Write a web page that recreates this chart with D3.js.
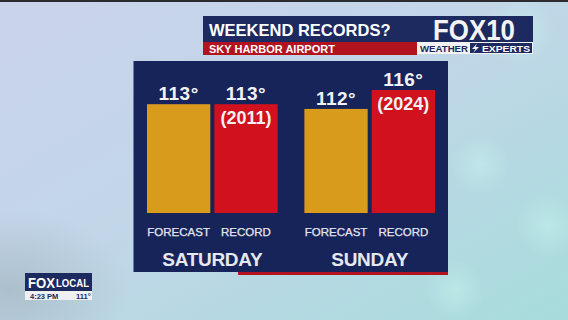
<!DOCTYPE html>
<html>
<head>
<meta charset="utf-8">
<script src="https://cdn.jsdelivr.net/npm/d3@7"></script>
<style>
  html, body { margin: 0; padding: 0; background: #c6d3e6; }
  svg { display: block; font-family: "Liberation Sans", Arial, sans-serif; }
</style>
</head>
<body>
<svg id="chart" width="568" height="320"></svg>
<script>
// chart values
const days = ["SATURDAY", "SUNDAY"];
const series = ["FORECAST", "RECORD"];
const forecast = [113, 112];
const record = [113, 116];
const recordYears = ["2011", "2024"];

const title = "WEEKEND RECORDS?";
const subtitle = "SKY HARBOR AIRPORT";

const width = 568, height = 320;
const svg = d3.select("#chart");

// background
const defs = svg.append("defs");
const bg = defs.append("linearGradient").attr("id", "bg")
  .attr("x1", 0).attr("y1", 0).attr("x2", 1).attr("y2", 1);
bg.append("stop").attr("offset", "0%").attr("stop-color", "#cad3eb");
bg.append("stop").attr("offset", "45%").attr("stop-color", "#c2d6e8");
bg.append("stop").attr("offset", "100%").attr("stop-color", "#a7dcdc");
svg.append("rect").attr("width", width).attr("height", height).attr("fill", "url(#bg)");

const shade = defs.append("radialGradient").attr("id", "shade");
shade.append("stop").attr("offset", "0%").attr("stop-color", "#9fb0ba").attr("stop-opacity", 0.6);
shade.append("stop").attr("offset", "100%").attr("stop-color", "#9fb0ba").attr("stop-opacity", 0);
svg.append("ellipse").attr("cx", 10).attr("cy", 290).attr("rx", 120).attr("ry", 80).attr("fill", "url(#shade)");

const glow = defs.append("radialGradient").attr("id", "glow");
glow.append("stop").attr("offset", "0%").attr("stop-color", "#c4f0ea").attr("stop-opacity", 0.6);
glow.append("stop").attr("offset", "100%").attr("stop-color", "#c4f0ea").attr("stop-opacity", 0);
[[480, 165, 30], [548, 225, 32], [520, 30, 35], [455, 290, 30]].forEach(([cx, cy, r]) => {
  svg.append("circle").attr("cx", cx).attr("cy", cy).attr("r", r).attr("fill", "url(#glow)");
});

svg.append("rect").attr("width", width).attr("height", 2).attr("fill", "#2b2b30");

// header
svg.append("rect").attr("x", 203).attr("y", 16).attr("width", 330).attr("height", 26).attr("fill", "#1c2a5f");
svg.append("rect").attr("x", 203).attr("y", 42).attr("width", 214).attr("height", 13).attr("fill", "#b3121f");
svg.append("text").attr("x", 209).attr("y", 35.5)
  .attr("fill", "#fff").attr("font-size", 16.5).attr("font-weight", "bold").text(title);
svg.append("text").attr("x", 209).attr("y", 52.5)
  .attr("fill", "#fff").attr("font-size", 11).attr("font-weight", "bold").text(subtitle);

// FOX 10 logo
svg.append("text").attr("x", 433).attr("y", 40)
  .attr("fill", "#f4f4f6").attr("font-size", 30).attr("font-weight", "bold")
  .attr("textLength", 82).attr("lengthAdjust", "spacingAndGlyphs").text("FOX10");
svg.append("rect").attr("x", 417.5).attr("y", 42.5).attr("width", 115).attr("height", 11)
  .attr("fill", "#1c2a5f").attr("stroke", "#f2f2f2").attr("stroke-width", 1);
svg.append("rect").attr("x", 418).attr("y", 43).attr("width", 52).attr("height", 10).attr("fill", "#f2f2f2");
svg.append("text").attr("x", 420).attr("y", 51.5)
  .attr("fill", "#1c2a5f").attr("font-size", 9.5).attr("font-weight", "bold")
  .attr("textLength", 48).attr("lengthAdjust", "spacingAndGlyphs").text("WEATHER");
svg.append("path").attr("d", "M477,43.5 L472,49 L475.5,49 L473,53 L479,47 L475.5,47 Z").attr("fill", "#f2f2f2");
svg.append("text").attr("x", 482).attr("y", 51.5)
  .attr("fill", "#fff").attr("font-size", 9.5).attr("font-weight", "bold")
  .attr("textLength", 48).attr("lengthAdjust", "spacingAndGlyphs").text("EXPERTS");

// panel
svg.append("rect").attr("x", 133.5).attr("y", 61).attr("width", 314.5).attr("height", 211).attr("fill", "#17245a");
svg.append("rect").attr("x", 238).attr("y", 272).attr("width", 210).attr("height", 3).attr("fill", "#b3121f");

// scales
const x0 = d3.scaleBand().domain(days).range([147, 435]).paddingInner(0.17).paddingOuter(0);
const x1 = d3.scaleBand().domain(series).range([0, x0.bandwidth()]).padding(0.06).paddingOuter(0);
const y = d3.scaleLinear().domain([90, 116]).range([213, 90]);
const color = d3.scaleOrdinal().domain(series).range(["#d89b1c", "#d1111e"]);

const rows = days.map((d, i) => ({
  day: d,
  bars: [
    { key: "FORECAST", value: forecast[i] },
    { key: "RECORD", value: record[i], year: recordYears[i] }
  ]
}));

const g = svg.append("g").selectAll("g").data(rows).join("g")
  .attr("transform", d => `translate(${x0(d.day)},0)`);

g.selectAll("rect").data(d => d.bars).join("rect")
  .attr("x", d => x1(d.key))
  .attr("y", d => y(d.value))
  .attr("width", x1.bandwidth())
  .attr("height", d => y(y.domain()[0]) - y(d.value))
  .attr("fill", d => color(d.key));

g.selectAll("text.val").data(d => d.bars).join("text").attr("class", "val")
  .attr("x", d => x1(d.key) + x1.bandwidth() / 2)
  .attr("y", d => y(d.value) - 4)
  .attr("text-anchor", "middle")
  .attr("fill", "#f2f2f4").attr("font-size", 19).attr("font-weight", "bold")
  .attr("letter-spacing", 0.5)
  .text(d => d.value + "°");

g.selectAll("text.year").data(d => d.bars.filter(b => b.year)).join("text").attr("class", "year")
  .attr("x", d => x1(d.key) + x1.bandwidth() / 2)
  .attr("y", d => y(d.value) + 19.5)
  .attr("text-anchor", "middle")
  .attr("fill", "#f2f2f4").attr("font-size", 18).attr("font-weight", "bold")
  .text(d => `(${d.year})`);

g.selectAll("text.series").data(d => d.bars).join("text").attr("class", "series")
  .attr("x", d => x1(d.key) + x1.bandwidth() / 2)
  .attr("y", 235.5)
  .attr("text-anchor", "middle")
  .attr("fill", "#e4e6ee").attr("font-size", 11.5)
  .attr("stroke", "#e4e6ee").attr("stroke-width", 0.25)
  .text(d => d.key);

g.append("text")
  .attr("x", x0.bandwidth() / 2)
  .attr("y", 266)
  .attr("text-anchor", "middle")
  .attr("fill", "#e6e8ee").attr("font-size", 19).attr("font-weight", "bold")
  .attr("letter-spacing", -0.3)
  .text(d => d.day);

// FOX LOCAL bug
svg.append("rect").attr("x", 25).attr("y", 273).attr("width", 67).attr("height", 18).attr("fill", "#1c2a5f");
svg.append("text").attr("x", 28).attr("y", 288)
  .attr("fill", "#fff").attr("font-size", 15).attr("font-weight", "bold")
  .attr("textLength", 27).attr("lengthAdjust", "spacingAndGlyphs").text("FOX");
svg.append("text").attr("x", 56).attr("y", 287)
  .attr("fill", "#fff").attr("font-size", 11).attr("font-weight", "bold")
  .attr("textLength", 33).attr("lengthAdjust", "spacingAndGlyphs").text("LOCAL");
svg.append("rect").attr("x", 25).attr("y", 291).attr("width", 67).attr("height", 9).attr("fill", "#eef0f2");
svg.append("text").attr("x", 30).attr("y", 298.5)
  .attr("fill", "#1c2a5f").attr("font-size", 7.5).attr("font-weight", "bold").text("4:23 PM");
svg.append("text").attr("x", 76).attr("y", 298.5)
  .attr("fill", "#1c2a5f").attr("font-size", 7.5).attr("font-weight", "bold").text("111°");
</script>
</body>
</html>
